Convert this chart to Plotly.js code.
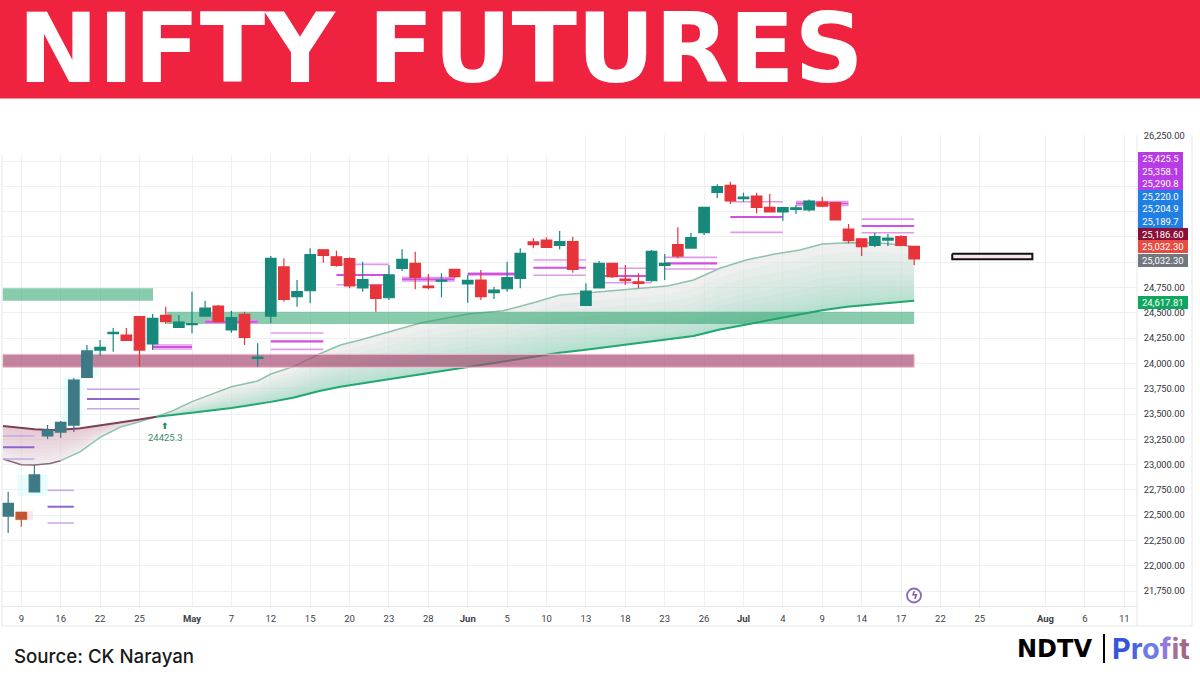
<!DOCTYPE html>
<html><head><meta charset="utf-8">
<script src="https://cdn.plot.ly/plotly-3.0.1.min.js"></script>
<style>html,body{margin:0;padding:0;background:#fff}#c{width:1200px;height:675px}</style>
</head><body><div id="c"></div>
<script>
// ---------- data ----------
const candleOpen=[22492,22529,22730,23283,23322,23391,23863,24132,24295,24281,24462,24192,24475,24357,24383,24468,24567,24330,24485,24050,24468,24953,24659,24718,25123,25054,25035,24745,24775,24649,24940,24989,24765,24812,24930,24785,24824,24699,24738,24841,25200,25219,25167,25203,24574,24745,24989,24834,24807,24817,24969,25173,25140,25291,25691,25760,25627,25654,25542,25496,25523,25516,25595,25588,25328,25232,25167,25219,25252,25157];
const candleHigh=[22733,22535,22996,23391,23431,23856,24182,24231,24350,24350,24468,24488,24560,24478,24709,24620,24577,24521,24511,24199,25061,25038,24824,25137,25130,25114,25048,25005,24780,24972,25127,25104,24883,24890,24933,24874,24923,24758,25005,25137,25236,25246,25308,25252,24791,25012,24992,24972,24890,25120,25081,25345,25291,25545,25770,25795,25687,25687,25674,25545,25565,25619,25647,25592,25377,25236,25291,25279,25266,25160];
const candleLow=[22324,22387,22725,23253,23263,23322,23856,24073,24116,24221,23968,24132,24389,24350,24297,24463,24409,24303,24182,23968,24399,24610,24560,24594,24995,24955,24742,24709,24511,24626,24913,24732,24732,24653,24844,24600,24626,24636,24709,24742,25137,25145,25127,24896,24572,24743,24844,24775,24742,24807,24824,25038,25137,25269,25631,25575,25598,25483,25493,25410,25476,25501,25542,25412,25187,25061,25147,25160,25157,24972];
const candleClose=[22618,22460,22898,23342,23418,23836,24123,24159,24308,24228,24132,24446,24412,24409,24393,24547,24412,24452,24258,24062,25038,24633,24709,25074,25068,24969,24765,24827,24643,24874,25029,24851,24748,24822,24857,24821,24659,24725,24847,25088,25173,25147,25203,24930,24715,24989,24857,24817,24791,25108,24989,25061,25242,25542,25746,25605,25644,25542,25496,25540,25538,25605,25555,25417,25212,25153,25252,25239,25167,25032];

const maIndex=[-0.4,1,2,3.2,4,5.5,7,8.5,10,11.3,12.5,14,17,19,20,21.7,23.7,25.3,26.8,30,31.4,35,37.7,40,42,44,47.6,50.2,52.2,54.2,56.2,58.3,60.3,62,63.9,66.4,68,69];
const fastMA=[23056,22999,22996,23011,23039,23128,23270,23369,23424,23474,23530,23622,23770,23826,23895,23968,24093,24182,24231,24345,24399,24488,24521,24600,24676,24696,24732,24765,24824,24940,25022,25078,25120,25180,25193,25190,25170,25150];
const slowMA=[23382,23360,23349,23342,23345,23359,23391,23417,23445,23474,23488,23512,23560,23599,23620,23660,23728,23770,23800,23868,23895,23968,24018,24068,24105,24135,24192,24235,24270,24335,24385,24430,24485,24525,24560,24590,24607,24618];

const pivotStart=[-0.4,3,6,11,15,20,25,30,35,40,45,50,55,60,65];
const pivotEnd=[2,5,10,14,19,24,29,34,39,44,49,54,59,64,69];
const pivotTop=[23283,22746,23744,24182,24426,24300,24979,24849,24893,25022,24940,25048,25598,25600,25425.5];
const pivotMid=[23171,22584,23648,24162,24412,24218,24874,24831,24883,24946,24864,24989,25447,25580,25358.1];
const pivotBottom=[23056,22423,23553,24142,24399,24139,24778,24814,24874,24871,24797,24933,25295,25560,25290.8];

const greenZoneStart=[-0.42,12.1], greenZoneEnd=[11.03,69], greenZoneTop=[24742,24511], greenZoneBottom=[24620,24389];
const redZoneStart=[-0.42], redZoneEnd=[69], redZoneTop=[24090], redZoneBottom=[23962];
const targetBox={start:71.9,end:78,top:25084,bottom:25029};

const glowCyan=[[0.7,3,22900,22690],[4.2,5.6,23870,23380],[5.6,6.9,24150,23870]];
const glowPink=[[0.55,1.9,22540,22450]];

const priceTicks=[21750,22000,22250,22500,22750,23000,23250,23500,23750,24000,24250,24500,24750,25000,25250,25500,25750,26000,26250];
const priceTickText=["21,750.00","22,000.00","22,250.00","22,500.00","22,750.00","23,000.00","23,250.00","23,500.00","23,750.00","24,000.00","24,250.00","24,500.00","24,750.00","","","","","","26,250.00"];
const dateTicks=[1,4,7,10,14,17,20,23,26,29,32,35,38,41,44,47,50,53,56,59,62,65,68,71,74,79,82,85];
const dateTickText=["9","16","22","25","<b>May</b>","7","12","15","20","23","28","<b>Jun</b>","5","10","13","18","23","26","<b>Jul</b>","4","9","14","17","22","25","<b>Aug</b>","6","11"];

const priceLabelText=["25,425.5","25,358.1","25,290.8","25,220.0","25,204.9","25,189.7","25,186.60","25,032.30","25,032.30","24,617.81"];
const priceLabelColor=["#b83ce6","#b83ce6","#b83ce6","#1f7fe2","#1f7fe2","#1f7fe2","#8a0f36","#e84c40","#71767f","#0fa75f"];
const priceLabelY=[158.9,171.4,183.9,196.3,208.8,221.3,234.5,247,260,302];
const priceLabelW=[45,45,45,45,45,45,49.5,49.5,49.5,49.5];

const titleText="NIFTY FUTURES";
const sourceText="Source: CK Narayan";
const signalText="24425.3";

// ---------- layout helpers ----------
const W=1200,H=675,ML=2,MR=63,MT=135,MB=69,PW=W-ML-MR,PH=H-MT-MB;
const xp=px=>(px-ML)/PW, yp=py=>(H-MB-py)/PH;
const xRange=[-0.47,85.97], yRange=[21603,26257];
const traces=[];
function rectTrace(a,b,top,bottom,fill,line){
  traces.push({type:'scatter',mode:line?'lines':'none',x:[a,b,b,a,a],y:[top,top,bottom,bottom,top],fill:'toself',fillcolor:fill,line:line||{width:0},hoverinfo:'skip',showlegend:false});
}
glowCyan.forEach(g=>rectTrace(g[0],g[1],g[2],g[3],'rgba(215,250,250,0.55)'));
glowPink.forEach(g=>rectTrace(g[0],g[1],g[2],g[3],'rgba(252,220,232,0.7)'));

// shaded area between the averages, painted as nested translucent layers
const crossAt=maIndex.indexOf(11.3);
function areaLayer(from,to,t,fill){
  const xs=maIndex.slice(from,to), sl=slowMA.slice(from,to), fa=fastMA.slice(from,to);
  const cur=fa.map((v,i)=>v+(sl[i]-v)*t);
  traces.push({type:'scatter',mode:'none',x:xs.concat(xs.slice().reverse()),y:cur.concat(sl.slice().reverse()),fill:'toself',fillcolor:fill,hoverinfo:'skip',showlegend:false});
}
areaLayer(0,crossAt+1,0,'rgba(214,208,214,0.4)');
for(let i=1;i<=8;i++) areaLayer(0,crossAt+1,i/9,'rgba(240,130,160,0.04)');
areaLayer(crossAt,maIndex.length,0,'rgba(226,229,227,0.6)');
for(let i=1;i<=12;i++){const u=i/13; areaLayer(crossAt,maIndex.length,1-(1-u)*(1-u),'rgba(80,195,145,0.04)');}

// averages
function maLine(ys,from,to,color,width){
  traces.push({type:'scatter',mode:'lines',x:maIndex.slice(from,to),y:ys.slice(from,to),line:{color:color,width:width},hoverinfo:'skip',showlegend:false});
}
maLine(fastMA,0,5,'#8f6675',1.5);
maLine(fastMA,4,maIndex.length,'#8fc2a8',1.5);
maLine(slowMA,0,crossAt+1,'#7d3f55',2);
maLine(slowMA,crossAt,maIndex.length,'#22a770',2);

// zones
greenZoneStart.forEach((s,i)=>rectTrace(s,greenZoneEnd[i],greenZoneTop[i],greenZoneBottom[i],'rgba(40,160,105,0.55)'));
redZoneStart.forEach((s,i)=>rectTrace(s,redZoneEnd[i],redZoneTop[i],redZoneBottom[i],'rgba(163,72,110,0.68)',{color:'#f6bcd2',width:1}));
rectTrace(targetBox.start,targetBox.end,targetBox.top,targetBox.bottom,'#fbe3ea',{color:'#111111',width:2});

// pivot ladders
function pivotTrace(ys,from,to,color,width){
  const x=[],y=[];
  for(let i=from;i<to;i++){x.push(pivotStart[i],pivotEnd[i],null);y.push(ys[i],ys[i],null);}
  traces.push({type:'scatter',mode:'lines',x,y,line:{color:color,width:width},hoverinfo:'skip',showlegend:false,connectgaps:false});
}
pivotTrace(pivotTop,0,3,'#c6a6e6',1.5); pivotTrace(pivotBottom,0,3,'#c6a6e6',1.5); pivotTrace(pivotMid,0,3,'#8e66cf',2);
pivotTrace(pivotTop,3,15,'#e09ae9',1.6); pivotTrace(pivotBottom,3,15,'#e09ae9',1.6); pivotTrace(pivotMid,3,15,'#d24fe2',2.1);

// candles, on an overlay subplot so they sit above the zones and lines
function candles(from,to,up,down){
  traces.push({type:'candlestick',xaxis:'x2',yaxis:'y2',x:candleOpen.slice(from,to).map((_,i)=>from+i),
    open:candleOpen.slice(from,to),high:candleHigh.slice(from,to),low:candleLow.slice(from,to),close:candleClose.slice(from,to),
    whiskerwidth:0,
    increasing:{line:{color:up,width:1.2},fillcolor:up},decreasing:{line:{color:down,width:1.2},fillcolor:down},
    hoverinfo:'skip',showlegend:false});
}
candles(0,7,'#3d7a86','#c4562f');
candles(7,candleOpen.length,'#17897b','#e7343a');

// ---------- annotations ----------
const T=(text,px,py,size,color,extra)=>Object.assign({text,xref:'paper',yref:'paper',x:xp(px),y:yp(py),showarrow:false,xanchor:'left',yanchor:'middle',font:{size,color,family:'Inter, sans-serif'}},extra||{});
const annotations=[
  T(titleText,16,49,96,'#ffffff',{font:{size:96,color:'#ffffff',family:'DejaVu Sans',weight:700}}),
  T(sourceText,12,656,18.7,'#1a1a1a',{font:{size:18.7,color:'#1a1a1a',family:'Inter, sans-serif',weight:500}}),
  T('NDTV',1015,649,24,'#000000',{font:{size:24,color:'#000000',family:'DejaVu Sans',weight:700}}),
  T("<span style='color:#3655d8'>P</span><span style='color:#4a66dc'>r</span><span style='color:#6c7be6'>o</span><span style='color:#8f7bdc'>f</span><span style='color:#a2709a'>i</span><span style='color:#a06a84'>t</span>",1110,648,29,'#3655d8',{font:{size:29,color:'#3655d8',family:'Inter, sans-serif',weight:700}}),
  T('⬆',165.5,425.5,9,'#2f8f68',{xanchor:'center',font:{size:9,color:'#2f8f68',family:'DejaVu Sans',weight:700}}),
  T(signalText,165.5,437.5,9.5,'#3d8a68',{xanchor:'center',font:{size:9.5,color:'#3d8a68',family:'Roboto'}}),
  T('ϟ',914,595.5,11,'#7d5fb0',{xanchor:'center',font:{size:11,color:'#7d5fb0',family:'DejaVu Sans',weight:700}})
];
priceLabelText.forEach((t,i)=>{
  annotations.push({text:t,xref:'paper',yref:'paper',x:xp(1138),y:yp(priceLabelY[i]),xanchor:'left',yanchor:'middle',showarrow:false,
    width:priceLabelW[i],height:12.5,align:'center',valign:'middle',bgcolor:priceLabelColor[i],borderpad:0,borderwidth:0,
    font:{size:9.5,color:'#ffffff',family:'Roboto, sans-serif'}});
});

// ---------- frame ----------
const S=(type,x0,y0,x1,y1,extra)=>Object.assign({type,xref:'paper',yref:'paper',x0:xp(x0),y0:yp(y0),x1:xp(x1),y1:yp(y1),line:{width:0}},extra||{});
const frame='#e4e6e9';
const shapes=[
  S('rect',0,134,557,155,{fillcolor:'#ffffff',layer:'above'}),
  S('rect',0,0,1200,98.5,{fillcolor:'#ef233f',layer:'below'}),
  S('line',2,155,2,626,{line:{color:frame,width:1}}),
  S('line',2,626,1192,626,{line:{color:frame,width:1}}),
  S('line',1192,135,1192,626,{line:{color:frame,width:1}}),
  S('line',1137,135,1137,626,{line:{color:frame,width:1}}),
  S('line',1104,634,1104,663,{line:{color:'#000000',width:2}}),
  S('circle',907,588.5,921,602.5,{line:{color:'#8a6bb5',width:1.8},fillcolor:'rgba(255,255,255,0.8)'})
];

const layout={
  width:W,height:H,margin:{l:ML,r:MR,t:MT,b:MB,pad:0},paper_bgcolor:'#ffffff',plot_bgcolor:'#ffffff',showlegend:false,boxgap:0.2,boxgroupgap:0,
  xaxis:{range:xRange,tickmode:'array',tickvals:dateTicks,ticktext:dateTickText,showgrid:true,gridcolor:'#eef0f2',gridwidth:1,zeroline:false,
    showline:true,linecolor:frame,linewidth:1,ticks:'outside',ticklen:4,tickcolor:'rgba(0,0,0,0)',tickfont:{size:9.5,color:'#3c4048',family:'Roboto, sans-serif'},fixedrange:true,rangeslider:{visible:false}},
  yaxis:{range:yRange,side:'right',tickmode:'array',tickvals:priceTicks,ticktext:priceTickText,showgrid:true,gridcolor:'#eef0f2',gridwidth:1,zeroline:false,
    showline:false,ticks:'outside',ticklen:4,tickcolor:'rgba(0,0,0,0)',tickfont:{size:9.3,color:'#2f333a',family:'Roboto, sans-serif'},fixedrange:true},
  xaxis2:{overlaying:'x',range:xRange,visible:false,fixedrange:true,rangeslider:{visible:false}},
  yaxis2:{overlaying:'y',range:yRange,visible:false,fixedrange:true},
  shapes,annotations
};
Plotly.newPlot('c',traces,layout,{displayModeBar:false,staticPlot:true});
</script>
</body></html>
